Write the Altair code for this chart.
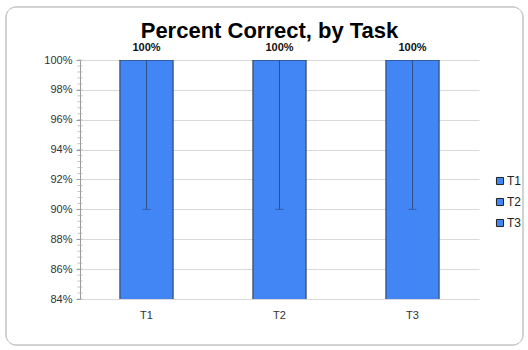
import altair as alt
import pandas as pd

tasks = ["T1", "T2", "T3"]
pct_correct = [1.0, 1.0, 1.0]
err_low = [0.90, 0.90, 0.90]
err_high = [1.10, 1.10, 1.10]
labels = ["100%", "100%", "100%"]
major_ticks = [0.84, 0.86, 0.88, 0.90, 0.92, 0.94, 0.96, 0.98, 1.00]
minor_ticks = [round(0.84 + 0.004 * i, 4) for i in range(41)]

df = pd.DataFrame({"task": tasks, "pct": pct_correct, "lo": err_low,
                   "hi": err_high, "label": labels})
df_minor = pd.DataFrame({"v": minor_ticks})

FONT = "Liberation Sans"
BLUE = "#4285f4"

x = alt.X("task:N", title=None, sort=tasks,
          scale=alt.Scale(paddingInner=0.6, paddingOuter=0.3),
          axis=alt.Axis(labelAngle=0, labelFont=FONT, labelFontSize=11,
                        labelColor="#333", ticks=False, domain=False,
                        labelPadding=10))
yscale = alt.Scale(domain=[0.84, 1.0], zero=False, nice=False)

base = alt.Chart(df)

frame = base.mark_rect(fill=None, stroke="#cccccc", strokeWidth=1,
                       cornerRadius=10, clip=False).encode(
    x=alt.value(-74), x2=alt.value(443), y=alt.value(-53), y2=alt.value(285))

bars = base.mark_bar(color=BLUE, stroke="#2b3a50", strokeWidth=1, clip=True).encode(
    x=x,
    y=alt.Y("pct:Q", scale=yscale, title=None,
            axis=alt.Axis(values=major_ticks, format=".0%", labelFont=FONT,
                          labelFontSize=11, labelColor="#333", gridColor="#d9d9d9",
                          domainColor="#999", tickColor="#999", tickSize=4,
                          labelPadding=4, orient="left")),
    color=alt.Color("task:N", sort=tasks, title=None,
                    scale=alt.Scale(domain=tasks, range=[BLUE, BLUE, BLUE]),
                    legend=alt.Legend(orient="none", legendX=414, legendY=115,
                                      symbolType="square", symbolSize=50,
                                      symbolStrokeColor="#222", symbolStrokeWidth=1,
                                      labelFont=FONT, labelFontSize=12,
                                      labelColor="#222", rowPadding=9,
                                      labelOffset=1)),
)

minor = alt.Chart(df_minor).mark_tick(color="#aaaaaa", orient="horizontal",
                                       size=5, thickness=1).encode(
    x=alt.value(0), y=alt.Y("v:Q", scale=yscale, axis=None))

err = base.mark_rule(color="#30508a", strokeWidth=1, clip=True).encode(
    x=x, y=alt.Y("lo:Q", scale=yscale, axis=None), y2="hi:Q")

cap = base.mark_tick(color="#30508a", orient="horizontal", size=8,
                     thickness=1).encode(x=x, y=alt.Y("lo:Q", scale=yscale, axis=None))

text = base.mark_text(font=FONT, fontSize=11, fontWeight="bold", color="#111",
                      dy=-12).encode(x=x, y=alt.Y("pct:Q", scale=yscale, axis=None),
                                     text="label:N")

chart = alt.layer(frame, bars, minor, err, cap, text).resolve_axis(
    y="independent").properties(
    width=399, height=239,
    background="white",
    title=alt.TitleParams("Percent Correct, by Task", font=FONT, fontSize=22,
                          fontWeight="bold", color="#000", offset=-36,
                          anchor="middle", dx=-10, frame="group"),
    autosize=alt.AutoSizeParams(type="none"),
    padding={"left": 80, "top": 60, "right": 49, "bottom": 51},
).configure_view(strokeWidth=0)

chart.save("out.html", embed_options={"renderer": "svg", "actions": False})
